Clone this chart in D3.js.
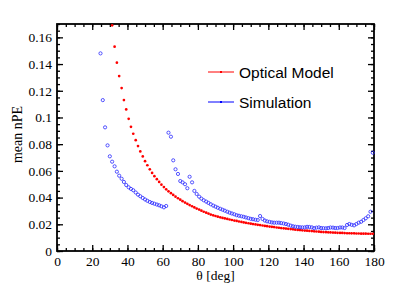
<!DOCTYPE html>
<html>
<head>
<meta charset="utf-8">
<script src="https://cdn.jsdelivr.net/npm/d3@7"></script>
<style>
  body { margin: 0; background: #fff; }
</style>
</head>
<body>
<svg width="407" height="293"></svg>
<script>
// angle grid (deg), shared by both series
const theta = [
  24.7, 26.0, 27.3, 28.7, 30.0, 31.3, 32.7, 34.0, 35.3, 36.7,
  38.0, 39.3, 40.7, 42.0, 43.3, 44.7, 46.0, 47.3, 48.7, 50.0,
  51.3, 52.7, 54.0, 55.3, 56.7, 58.0, 59.3, 60.7, 62.0, 63.3,
  64.7, 66.0, 67.3, 68.7, 70.0, 71.3, 72.7, 74.0, 75.3, 76.7,
  78.0, 79.3, 80.7, 82.0, 83.3, 84.7, 86.0, 87.3, 88.7, 90.0,
  91.3, 92.7, 94.0, 95.3, 96.7, 98.0, 99.3, 100.7, 102.0, 103.3,
  104.7, 106.0, 107.3, 108.7, 110.0, 111.3, 112.7, 114.0, 115.3, 116.7,
  118.0, 119.3, 120.7, 122.0, 123.3, 124.7, 126.0, 127.3, 128.7, 130.0,
  131.3, 132.7, 134.0, 135.3, 136.7, 138.0, 139.3, 140.7, 142.0, 143.3,
  144.7, 146.0, 147.3, 148.7, 150.0, 151.3, 152.7, 154.0, 155.3, 156.7,
  158.0, 159.3, 160.7, 162.0, 163.3, 164.7, 166.0, 167.3, 168.7, 170.0,
  171.3, 172.7, 174.0, 175.3, 176.7, 178.0, 179.3
];

const opticalModel = [
  null, null, null, null, null, 0.169, 0.153, 0.141, 0.131, 0.122,
  0.113, 0.106, 0.099, 0.093, 0.0878, 0.0830, 0.0786, 0.0746, 0.0708, 0.0673,
  0.0642, 0.0612, 0.0585, 0.0560, 0.0538, 0.0517, 0.0497, 0.0479, 0.0462, 0.0447,
  0.0433, 0.0420, 0.0407, 0.0395, 0.0384, 0.0373, 0.0363, 0.0353, 0.0344, 0.0335,
  0.0326, 0.0318, 0.0310, 0.0302, 0.0294, 0.0287, 0.0280, 0.0273, 0.0267, 0.0262,
  0.0257, 0.0252, 0.0248, 0.0244, 0.0240, 0.0236, 0.0232, 0.0228, 0.0225, 0.0221,
  0.0218, 0.0214, 0.0211, 0.0208, 0.0205, 0.0202, 0.0199, 0.0196, 0.0194, 0.0191,
  0.0188, 0.0186, 0.0183, 0.0181, 0.0179, 0.0176, 0.0174, 0.0172, 0.0170, 0.0168,
  0.0166, 0.0164, 0.0162, 0.0160, 0.0158, 0.0157, 0.0155, 0.0153, 0.0152, 0.0150,
  0.0149, 0.0147, 0.0146, 0.0145, 0.0143, 0.0142, 0.0141, 0.0140, 0.0139, 0.0138,
  0.0137, 0.0136, 0.0135, 0.0135, 0.0134, 0.0133, 0.0133, 0.0132, 0.0132, 0.0131,
  0.0131, 0.0130, 0.0130, 0.0130, 0.0129, 0.0129, 0.0129
];

const simulation = [
  0.148, 0.113, 0.0926, 0.0791, 0.0709, 0.0669, 0.0634, 0.0594, 0.0564, 0.0541,
  0.0517, 0.0494, 0.0477, 0.0465, 0.0455, 0.0438, 0.0422, 0.0410, 0.0397, 0.0386,
  0.0376, 0.0367, 0.0360, 0.0354, 0.0348, 0.0342, 0.0335, 0.0327, 0.0337, 0.0886,
  0.0856, 0.0679, 0.0612, 0.0577, 0.0524, 0.0514, 0.0500, 0.0470, 0.0556, 0.0514,
  0.0450, 0.0427, 0.0407, 0.0392, 0.0380, 0.0370, 0.0360, 0.0350, 0.0340, 0.0332,
  0.0324, 0.0316, 0.0309, 0.0302, 0.0294, 0.0287, 0.0281, 0.0275, 0.0268, 0.0264,
  0.0260, 0.0256, 0.0251, 0.0246, 0.0241, 0.0238, 0.0234, 0.0232, 0.0262, 0.0240,
  0.0228, 0.0222, 0.0218, 0.0214, 0.0212, 0.0212, 0.0212, 0.0209, 0.0206, 0.0202,
  0.0197, 0.0190, 0.0185, 0.0182, 0.0180, 0.0178, 0.0177, 0.0177, 0.0181, 0.0180,
  0.0177, 0.0171, 0.0175, 0.0177, 0.0172, 0.0171, 0.0170, 0.0172, 0.0176, 0.0175,
  0.0172, 0.0172, 0.0176, 0.0176, 0.0172, 0.0195, 0.0202, 0.0196, 0.0192, 0.0202,
  0.0212, 0.0219, 0.0232, 0.0245, 0.0260, 0.0294, 0.0736
];

const xTicks = [0, 20, 40, 60, 80, 100, 120, 140, 160, 180];
const yTicks = [0, 0.02, 0.04, 0.06, 0.08, 0.1, 0.12, 0.14, 0.16];
const legendNames = ["Optical Model", "Simulation"];

const svg = d3.select("svg");
const margin = {top: 24, right: 33, bottom: 42, left: 57};
const width = +svg.attr("width") - margin.left - margin.right;
const height = +svg.attr("height") - margin.top - margin.bottom;

const g = svg.append("g").attr("transform", `translate(${margin.left},${margin.top})`);

const x = d3.scaleLinear().domain([0, 180]).range([0, width]);
const y = d3.scaleLinear().domain([0, 0.17]).range([height, 0]);

const serif = "Liberation Serif, Times New Roman, serif";
const fmt = d => String(+d.toFixed(3));

const xMinor = d3.range(0, 181, 5);
const yMinor = d3.range(0, 0.1701, 0.005);

function styleAxis(sel, labels) {
    sel.select(".domain").remove();
    sel.selectAll("line").attr("stroke", "#000").attr("stroke-width", 1.3);
    sel.selectAll("text").attr("fill", "#000")
        .attr("font-family", serif).attr("font-size", 13.5);
    if (!labels) sel.selectAll("text").remove();
}

// minor ticks on all four sides
g.append("g").attr("transform", `translate(0,${height})`)
    .call(d3.axisBottom(x).tickValues(xMinor).tickSize(-3).tickFormat(""))
    .call(s => styleAxis(s, false));
g.append("g")
    .call(d3.axisTop(x).tickValues(xMinor).tickSize(-3).tickFormat(""))
    .call(s => styleAxis(s, false));
g.append("g")
    .call(d3.axisLeft(y).tickValues(yMinor).tickSize(-3).tickFormat(""))
    .call(s => styleAxis(s, false));
g.append("g").attr("transform", `translate(${width},0)`)
    .call(d3.axisRight(y).tickValues(yMinor).tickSize(-3).tickFormat(""))
    .call(s => styleAxis(s, false));

// major ticks
g.append("g").attr("class", "axis axis--x").attr("transform", `translate(0,${height})`)
    .call(d3.axisBottom(x).tickValues(xTicks).tickSize(-6).tickPadding(5.5).tickFormat(d => d))
    .call(s => styleAxis(s, true));
g.append("g")
    .call(d3.axisTop(x).tickValues(xTicks).tickSize(-6).tickFormat(""))
    .call(s => styleAxis(s, false));
g.append("g").attr("class", "axis axis--y")
    .call(d3.axisLeft(y).tickValues(yTicks).tickSize(-6).tickPadding(5).tickFormat(fmt))
    .call(s => styleAxis(s, true));
g.append("g").attr("transform", `translate(${width},0)`)
    .call(d3.axisRight(y).tickValues(yTicks).tickSize(-6).tickFormat(""))
    .call(s => styleAxis(s, false));

g.append("rect")
    .attr("width", width)
    .attr("height", height)
    .attr("fill", "none")
    .attr("stroke", "#000")
    .attr("stroke-width", 1.8);

// series
const optPts = theta.map((t, i) => ({t, v: opticalModel[i]})).filter(d => d.v != null);
const simPts = theta.map((t, i) => ({t, v: simulation[i]})).filter(d => d.v != null);

g.append("g").selectAll("circle")
    .data(optPts)
    .join("circle")
    .attr("cx", d => x(d.t))
    .attr("cy", d => y(d.v))
    .attr("r", 1.35)
    .attr("fill", "#ff0000");

g.append("g").selectAll("circle")
    .data(simPts)
    .join("circle")
    .attr("cx", d => x(d.t))
    .attr("cy", d => y(d.v))
    .attr("r", 1.6)
    .attr("fill", "none")
    .attr("stroke", "#2a2aff")
    .attr("stroke-width", 0.8);

// axis labels
g.append("text")
    .attr("x", width / 2)
    .attr("y", height + 29)
    .attr("text-anchor", "middle")
    .attr("font-family", serif)
    .attr("font-size", 13.5)
    .text("θ [deg]");

g.append("text")
    .attr("transform", "rotate(-90)")
    .attr("x", -height / 2 + 3)
    .attr("y", -35)
    .attr("text-anchor", "middle")
    .attr("font-family", serif)
    .attr("font-size", 14)
    .text("mean nPE");

// legend
const legendColors = ["#ff0000", "#0000ff"];
const legend = svg.append("g").attr("transform", "translate(208,72)");
legendNames.forEach((name, i) => {
    const row = legend.append("g").attr("transform", `translate(0,${i * 30})`);
    row.append("line")
        .attr("x1", 0).attr("x2", 26)
        .attr("stroke", legendColors[i]).attr("stroke-width", 1);
    row.append("rect")
        .attr("x", 12).attr("y", -1).attr("width", 2).attr("height", 2)
        .attr("fill", legendColors[i]);
    row.append("text")
        .attr("x", 31)
        .attr("y", 5.5)
        .attr("font-family", "Liberation Sans, Arial, sans-serif")
        .attr("font-size", 15.5)
        .text(name);
});
</script>
</body>
</html>
